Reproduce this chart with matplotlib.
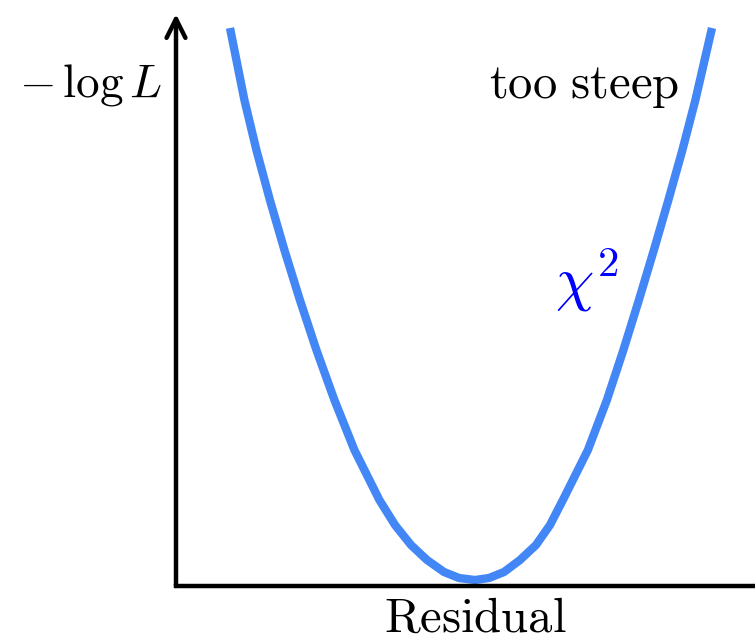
import matplotlib.pyplot as plt

plt.rcParams['mathtext.fontset'] = 'cm'

residual = [-2.45, -2.306, -2.186, -2.051, -1.906, -1.751, -1.586, -1.406, -1.206, -0.956,
            -0.80, -0.64, -0.48, -0.31, -0.16, 0.00,
            0.14, 0.29, 0.45, 0.61, 0.75, 0.879, 1.129, 1.319, 1.484,
            1.639, 1.789, 1.934, 2.074, 2.204, 2.37]
neg_log_l = [5.58, 4.86, 4.36, 3.86, 3.36, 2.86, 2.36, 1.86, 1.36, 0.86,
             0.61, 0.41, 0.26, 0.14, 0.08, 0.06,
             0.08, 0.14, 0.26, 0.41, 0.61, 0.86, 1.36, 1.86, 2.36,
             2.86, 3.36, 3.86, 4.36, 4.86, 5.58]

W, H = 755, 640
fig = plt.figure(figsize=(W / 100, H / 100), dpi=100)
ax = fig.add_axes([176 / W, 1 - 586 / H, 1 - 176 / W, (586 - 14) / H])
ax.set_xlim((176 - 475) / 100, (755 - 475) / 100)
ax.set_ylim(0, (586 - 14) / 100)

ax.plot(residual, neg_log_l, color='#4287f5', lw=6, solid_joinstyle='round',
        solid_capstyle='butt', clip_on=False)

for s in ['top', 'right', 'left']:
    ax.spines[s].set_visible(False)
ax.spines['bottom'].set_linewidth(3.2)
ax.set_xticks([])
ax.set_yticks([])

# y axis with open arrow head
ax.annotate('', xy=(0, 1), xytext=(0, 0), xycoords='axes fraction',
            arrowprops=dict(arrowstyle='->', lw=3.2, mutation_scale=34,
                            shrinkA=0, shrinkB=0, color='black'))

fig.text(19 / W, 1 - 97 / H, r'$-\,\log L$', fontsize=34, ha='left', va='baseline')
fig.text(489 / W, 1 - 98 / H, r'$\mathrm{too\ steep}$', fontsize=35,
         ha='left', va='baseline')
fig.text(555 / W, 1 - 300 / H, r'$\chi^2$', fontsize=44, color='blue',
         ha='left', va='baseline')
fig.text(475 / W, 1 - 632 / H, r'$\mathrm{Residual}$', fontsize=35,
         ha='center', va='baseline')

fig.savefig('out.png', dpi=100)
